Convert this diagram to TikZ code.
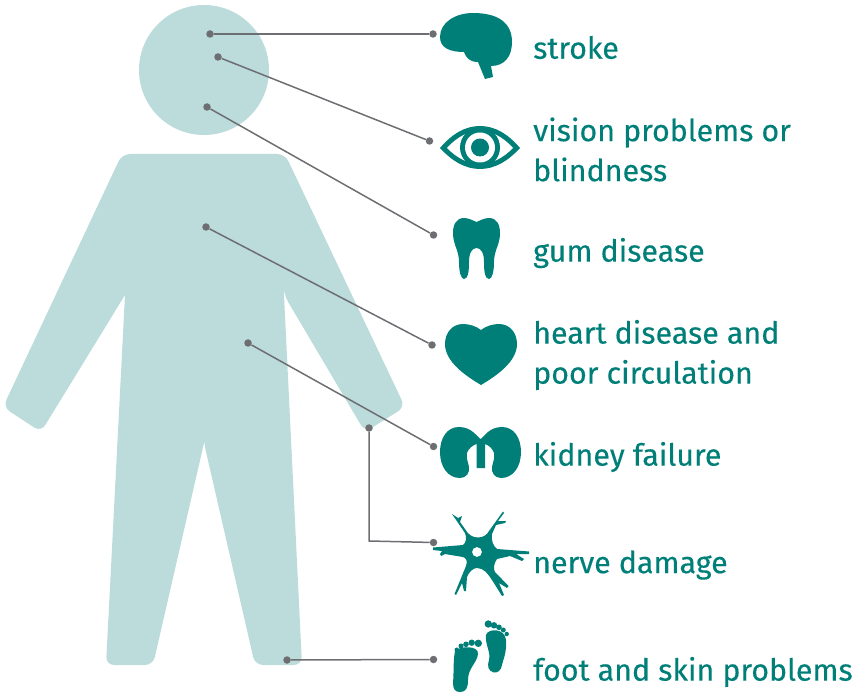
\documentclass[tikz,border=0pt]{standalone}
\usepackage{fontspec}
\setmainfont{Fira Sans}[FakeBold=0.25]
\definecolor{bodyblue}{HTML}{BCDBDB}
\definecolor{iconteal}{HTML}{007F78}
\definecolor{pingray}{HTML}{6D6E71}
\usetikzlibrary{positioning}

\begin{document}
\begin{tikzpicture}[
	x=1pt, y=-1pt,
	every node/.style={font=\fontsize{30.4}{40}\selectfont},
	label/.style={text=iconteal, anchor=west, align=left, inner sep=0pt},
	pin/.style={circle, fill=pingray, inner sep=0pt, minimum size=7.5pt},
	link/.style={draw=pingray, line width=1.5pt},
	icon/.style={fill=iconteal, draw=none},
	person/.style={fill=bodyblue, draw=none}
	]
	
	\useasboundingbox (0,0) rectangle (862,692);
	
	% person
	\fill[person] (204,70) circle (65);
	\fill[person, rounded corners=8pt] (122,154) -- (285,154) -- (405,407) -- (365,432) -- (284,295) [sharp corners] -- (284,295) [rounded corners=8pt] -- (302,665) -- (255,665) -- (204,443) [sharp corners] -- (204,443) [rounded corners=8pt] -- (153,665) -- (106,665) -- (125,295) [sharp corners] -- (125,295) [rounded corners=8pt] -- (41,432) -- (3,407) -- cycle;
	
	% brain
	\fill[icon] (440,37) .. controls (440,22) and (456,13) .. (473,13) .. controls (497,13) and (512,22) .. (512,42) .. controls (512,56) and (505,66) .. (491,66) -- (493,77) -- (485,79) -- (478,62) .. controls (470,62) and (466,58) .. (464,52) .. controls (450,52) and (440,48) .. (440,37) -- cycle;
	
	% eye
	\fill[icon] (440,148) .. controls (452,134) and (465,126) .. (480,126) .. controls (495,126) and (508,134) .. (520,148) .. controls (508,161) and (495,169) .. (480,169) .. controls (465,169) and (452,161) .. (440,148) -- cycle;
	\fill[white] (447,148) .. controls (457,137) and (468,131) .. (480,131) .. controls (492,131) and (503,137) .. (513,148) .. controls (503,158) and (492,164) .. (480,164) .. controls (468,164) and (457,158) .. (447,148) -- cycle;
	\fill[icon] (480,147.5) circle (20);
	\fill[white] (480,147.5) circle (15);
	\fill[icon] (480,147.5) circle (9);
	
	% tooth
	\fill[icon] (476.5,222) .. controls (472,220) and (468,218) .. (464,218) .. controls (456,218) and (453,225) .. (453,233) .. controls (453,245) and (459,250) .. (459,262) .. controls (459,272) and (461,279) .. (464,279) .. controls (468,279) and (469,272) .. (469,262) .. controls (469,253) and (472,248) .. (476.5,248) .. controls (481,248) and (484,253) .. (484,262) .. controls (484,272) and (485,279) .. (489,279) .. controls (492,279) and (494,272) .. (494,262) .. controls (494,250) and (500,245) .. (500,233) .. controls (500,225) and (497,218) .. (489,218) .. controls (485,218) and (481,220) .. (476.5,222) -- cycle;
	
	% heart
	\fill[icon] (481,330) .. controls (476,326) and (469,324) .. (463,324) .. controls (452,324) and (445,333) .. (445,344) .. controls (445,362) and (466,376) .. (481,385) .. controls (496,376) and (517,362) .. (517,344) .. controls (517,333) and (510,324) .. (499,324) .. controls (493,324) and (486,326) .. (481,330) -- cycle;
	
	% kidneys
	\fill[icon] (480.7,439) .. controls (477,437) and (472,427) .. (459,427) .. controls (447,427) and (440,438) .. (440,452) .. controls (440,467) and (448,478) .. (460,478) .. controls (466,478) and (470,473) .. (469,467) .. controls (468,462) and (466,458) .. (467,453) .. controls (468,449) and (473,445) .. (476.5,444) -- (476.5,468) -- (485,468) -- (485,444) .. controls (488.5,445) and (493,449) .. (494,453) .. controls (495,458) and (493,462) .. (492,467) .. controls (491,473) and (495,478) .. (501,478) .. controls (513,478) and (521,467) .. (521,452) .. controls (521,438) and (514,427) .. (502,427) .. controls (489,427) and (484,437) .. (480.7,439) -- cycle;
	
	% neuron
	\fill[icon, even odd rule] (452,514) -- (458,518) -- (462,516) -- (460,522) -- (465,529) .. controls (468,535) and (473,537.5) .. (478,537.5) .. controls (483,537.5) and (487,535) .. (489,531) -- (503,511.5) -- (504,513) -- (498,521) -- (506,521) -- (505,523) -- (496,525) -- (492,534) .. controls (491,540) and (493,546) .. (497,549) -- (529,551.5) -- (529,554) -- (516,554) -- (524,559) -- (522,561) -- (510,556) -- (497,559) .. controls (494,563) and (493,569) .. (495,572) -- (508.5,586) -- (507,588) -- (499,583) -- (504,595) -- (502,596) -- (492,580) .. controls (488,574) and (484,568) .. (477,568) .. controls (473,568) and (469,572) .. (467,577) -- (466,591) -- (464,591) -- (462,583) -- (456,595) -- (454.5,594) -- (466,566) .. controls (468,561) and (466,558) .. (463,557) -- (445,554) -- (441,556) -- (440,554) -- (442,551) -- (433,550) -- (433,547.5) -- (463,545) .. controls (466,543) and (467,538) .. (465,533) -- cycle (477,552) circle (5);
	
	% feet
	\fill[icon] (455,651) .. controls (459,646) and (479,645) .. (478,654) .. controls (477,663) and (468,668) .. (468,680) .. controls (468,688) and (466,692) .. (460,692) .. controls (455,692) and (453,689) .. (453,683) .. controls (454,672) and (453,662) .. (455,651) -- cycle;
	\foreach \tx/\ty/\tr in {478.3/643.3/3.7, 471.7/642.7/3.2, 466/644.3/2.8, 461/646/2.5, 456.7/649.7/2.2}
		\fill[icon] (\tx,\ty) circle (\tr);
	\fill[icon] (486,635) .. controls (488,628) and (505,628) .. (506,640) .. controls (507,652) and (503,660) .. (502,665) .. controls (501,671) and (497,673) .. (494,672.5) .. controls (488,671) and (487,666) .. (489,660) .. controls (491,652) and (485,645) .. (486,635) -- cycle;
	\foreach \tx/\ty/\tr in {488.3/624/3.7, 494/625.3/3.2, 499/627.3/2.8, 503.3/630/2.5, 506.7/634/2.2}
		\fill[icon] (\tx,\ty) circle (\tr);
	
	% labels
	\node[label] (stroke) at (533,47.5) {stroke};
	\node[label] (vision) at (533,149.5) {vision problems or\\blindness};
	\node[label] (gum) at (533,253) {gum disease};
	\node[label] (heart) at (533,355) {heart disease and\\poor circulation};
	\node[label] (kidney) at (533,457) {kidney failure};
	\node[label] (nerve) at (533,565) {nerve damage};
	\node[label] (foot) at (533,672) {foot and skin problems};
	
	% pins on the person
	\node[pin] (p1) at (210,34) {};
	\node[pin] (p2) at (218,57) {};
	\node[pin] (p3) at (207,107) {};
	\node[pin] (p4) at (206,227) {};
	\node[pin] (p5) at (248,343) {};
	\node[pin] (p6) at (369,428) {};
	\node[pin] (p7) at (287,660) {};
	
	% pins at the icons
	\node[pin] (q1) at (433,34) {};
	\node[pin] (q2) at (429.5,141) {};
	\node[pin] (q3) at (433.5,235) {};
	\node[pin] (q4) at (432,345) {};
	\node[pin] (q5) at (433.5,446.5) {};
	\node[pin] (q6) at (433.5,542.5) {};
	\node[pin] (q7) at (433.5,659.5) {};
	\coordinate (bend) at (369,541);
	
	\draw[link] (p1) -- (q1);
	\draw[link] (p2) -- (q2);
	\draw[link] (p3) -- (q3);
	\draw[link] (p4) -- (q4);
	\draw[link] (p5) -- (q5);
	\draw[link] (p6) -- (bend) -- (q6);
	\draw[link] (p7) -- (q7);
	
\end{tikzpicture}
\end{document}
